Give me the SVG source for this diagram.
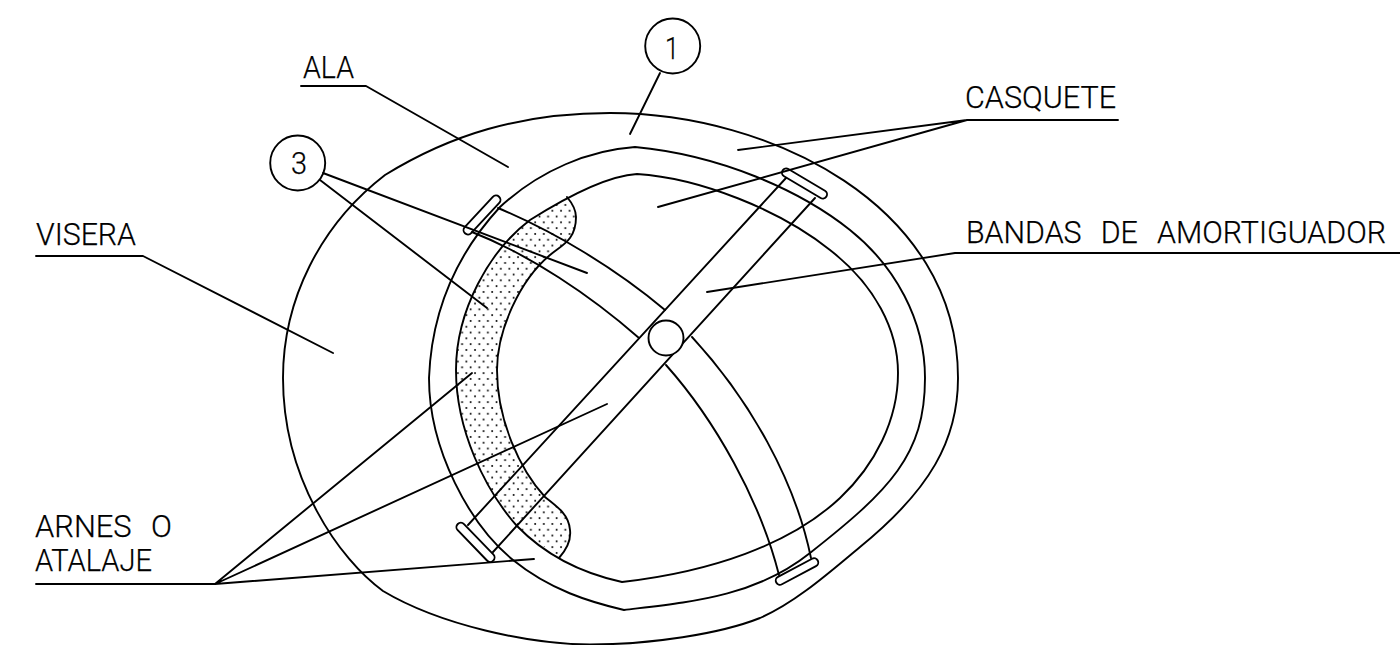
<svg xmlns="http://www.w3.org/2000/svg" width="1400" height="645" viewBox="0 0 1400 645">
<style>
.l{fill:none;stroke:#000;stroke-width:1.9;stroke-linejoin:round;stroke-linecap:round}
.t{font-family:"Roboto","Liberation Sans",sans-serif;font-weight:300;font-size:31px;fill:#000;stroke:#000;stroke-width:.25}
</style>
<defs>
<pattern id="dots" width="8.6" height="11.6" patternUnits="userSpaceOnUse">
<circle cx="2" cy="2" r="1" fill="#000"/>
<circle cx="6.3" cy="7.8" r="1" fill="#000"/>
</pattern>
</defs>
<rect width="1400" height="645" fill="#fff"/>
<g id="stipple">
<path fill="url(#dots)" d="M566 198L530 220C490 250 456 310 456 370C456 430 485 490 517 526L559 558C568 548 571 538 570 530C569 515 558 507 545 497C520 470 497 420 497 370C497 330 520 280 550 255C562 245 576 240 576 217C576 210 572 203 567 197Z"/>
<path class="l" d="M559 558C568 548 571 538 570 530C569 515 558 507 545 497C520 470 497 420 497 370C497 330 520 280 550 255C562 245 576 240 576 217C576 210 572 203 567 197"/>
</g>
<g id="visera">
<path class="l" d="M385 175C450 135 520 113 610 113C770 113 958 205 958 378C958 440 930 490 860 547C830 572 795 603 760 618C720 634 650 644.5 590 644.5C530 644.5 440 625 383 591C340 560 283 480 283 378C283 300 320 225 385 175Z"/>
</g>
<g id="ala">
<path class="l" d="M635 147C590 150 540 170 500 207C465 245 432 300 429 378C429 450 470 525 513 560C550 590 590 602 624 610C690 602 755 597 810 553C890 490 925 455 925 378C925 320 895 266 850 230C800 190 720 155 635 147Z"/>
</g>
<g id="casquete">
<path class="l" d="M637 174C605 176 565 198 530 220C490 250 456 310 456 370C456 430 485 490 517 526C550 560 590 575 622 582C710 572 790 545 840 498C875 465 898 420 898 373C898 330 875 285 830 250C780 210 700 178 637 174Z"/>
</g>
<g id="bandas">
<path class="l" d="M498 208C555 232 615 268 665 310M692 337C750 400 795 480 811 558M472 232C530 255 590 295 639 338M666 365C715 420 760 500 779 575"/>
<path class="l" d="M786 178L468 525M815 198L493 552"/>
<circle class="l" cx="666" cy="338" r="17.5" style="fill:#fff"/>
<rect class="l" x="-25.5" y="-4.2" width="51" height="8.4" rx="4.2" transform="translate(804.5 183.5) rotate(30.7)"/>
<rect class="l" x="-25.5" y="-4.4" width="51" height="8.8" rx="4.4" transform="translate(475.5 542.3) rotate(46)"/>
<rect class="l" x="-25" y="-4.4" width="50" height="8.8" rx="4.4" transform="translate(482 215) rotate(-47)"/>
<rect class="l" x="-23.5" y="-4.2" width="47" height="8.4" rx="4.2" transform="translate(797 571.5) rotate(-28)"/>
</g>
<g id="connectors">
<path class="l" d="M301 86H366L508 167"/>
<path class="l" d="M660 73L630 134"/>
<path class="l" d="M1118 120H967L738 150M967 120L658 207"/>
<path class="l" d="M1400 253H955L707 292"/>
<path class="l" d="M36 256H143L333 353"/>
<path class="l" d="M36 584H215L472 373M215 584L607 404M215 584L534 559"/>
<path class="l" d="M323 173L587 273M320 180L487 308"/>
</g>
<g id="label-1">
<circle class="l" cx="672.7" cy="46" r="27.5"/>
<text class="t" x="665" y="59" textLength="14" lengthAdjust="spacingAndGlyphs">1</text>
</g>
<g id="label-3">
<circle class="l" cx="297.7" cy="163" r="27.5"/>
<text class="t" x="291" y="174" textLength="16" lengthAdjust="spacingAndGlyphs">3</text>
</g>
<g id="label-ala"><text class="t" x="303" y="78" textLength="51" lengthAdjust="spacingAndGlyphs">ALA</text></g>
<g id="label-casquete"><text class="t" x="965" y="108" textLength="151" lengthAdjust="spacingAndGlyphs">CASQUETE</text></g>
<g id="label-bandas"><text class="t" x="966" y="243" textLength="420" lengthAdjust="spacingAndGlyphs" style="word-spacing:12px">BANDAS DE AMORTIGUADOR</text></g>
<g id="label-visera"><text class="t" x="36" y="245" textLength="100" lengthAdjust="spacingAndGlyphs">VISERA</text></g>
<g id="label-arnes">
<text class="t" x="35" y="537" textLength="137" lengthAdjust="spacingAndGlyphs" style="word-spacing:12px">ARNES O</text>
<text class="t" x="35" y="571" textLength="117" lengthAdjust="spacingAndGlyphs">ATALAJE</text>
</g>
</svg>
